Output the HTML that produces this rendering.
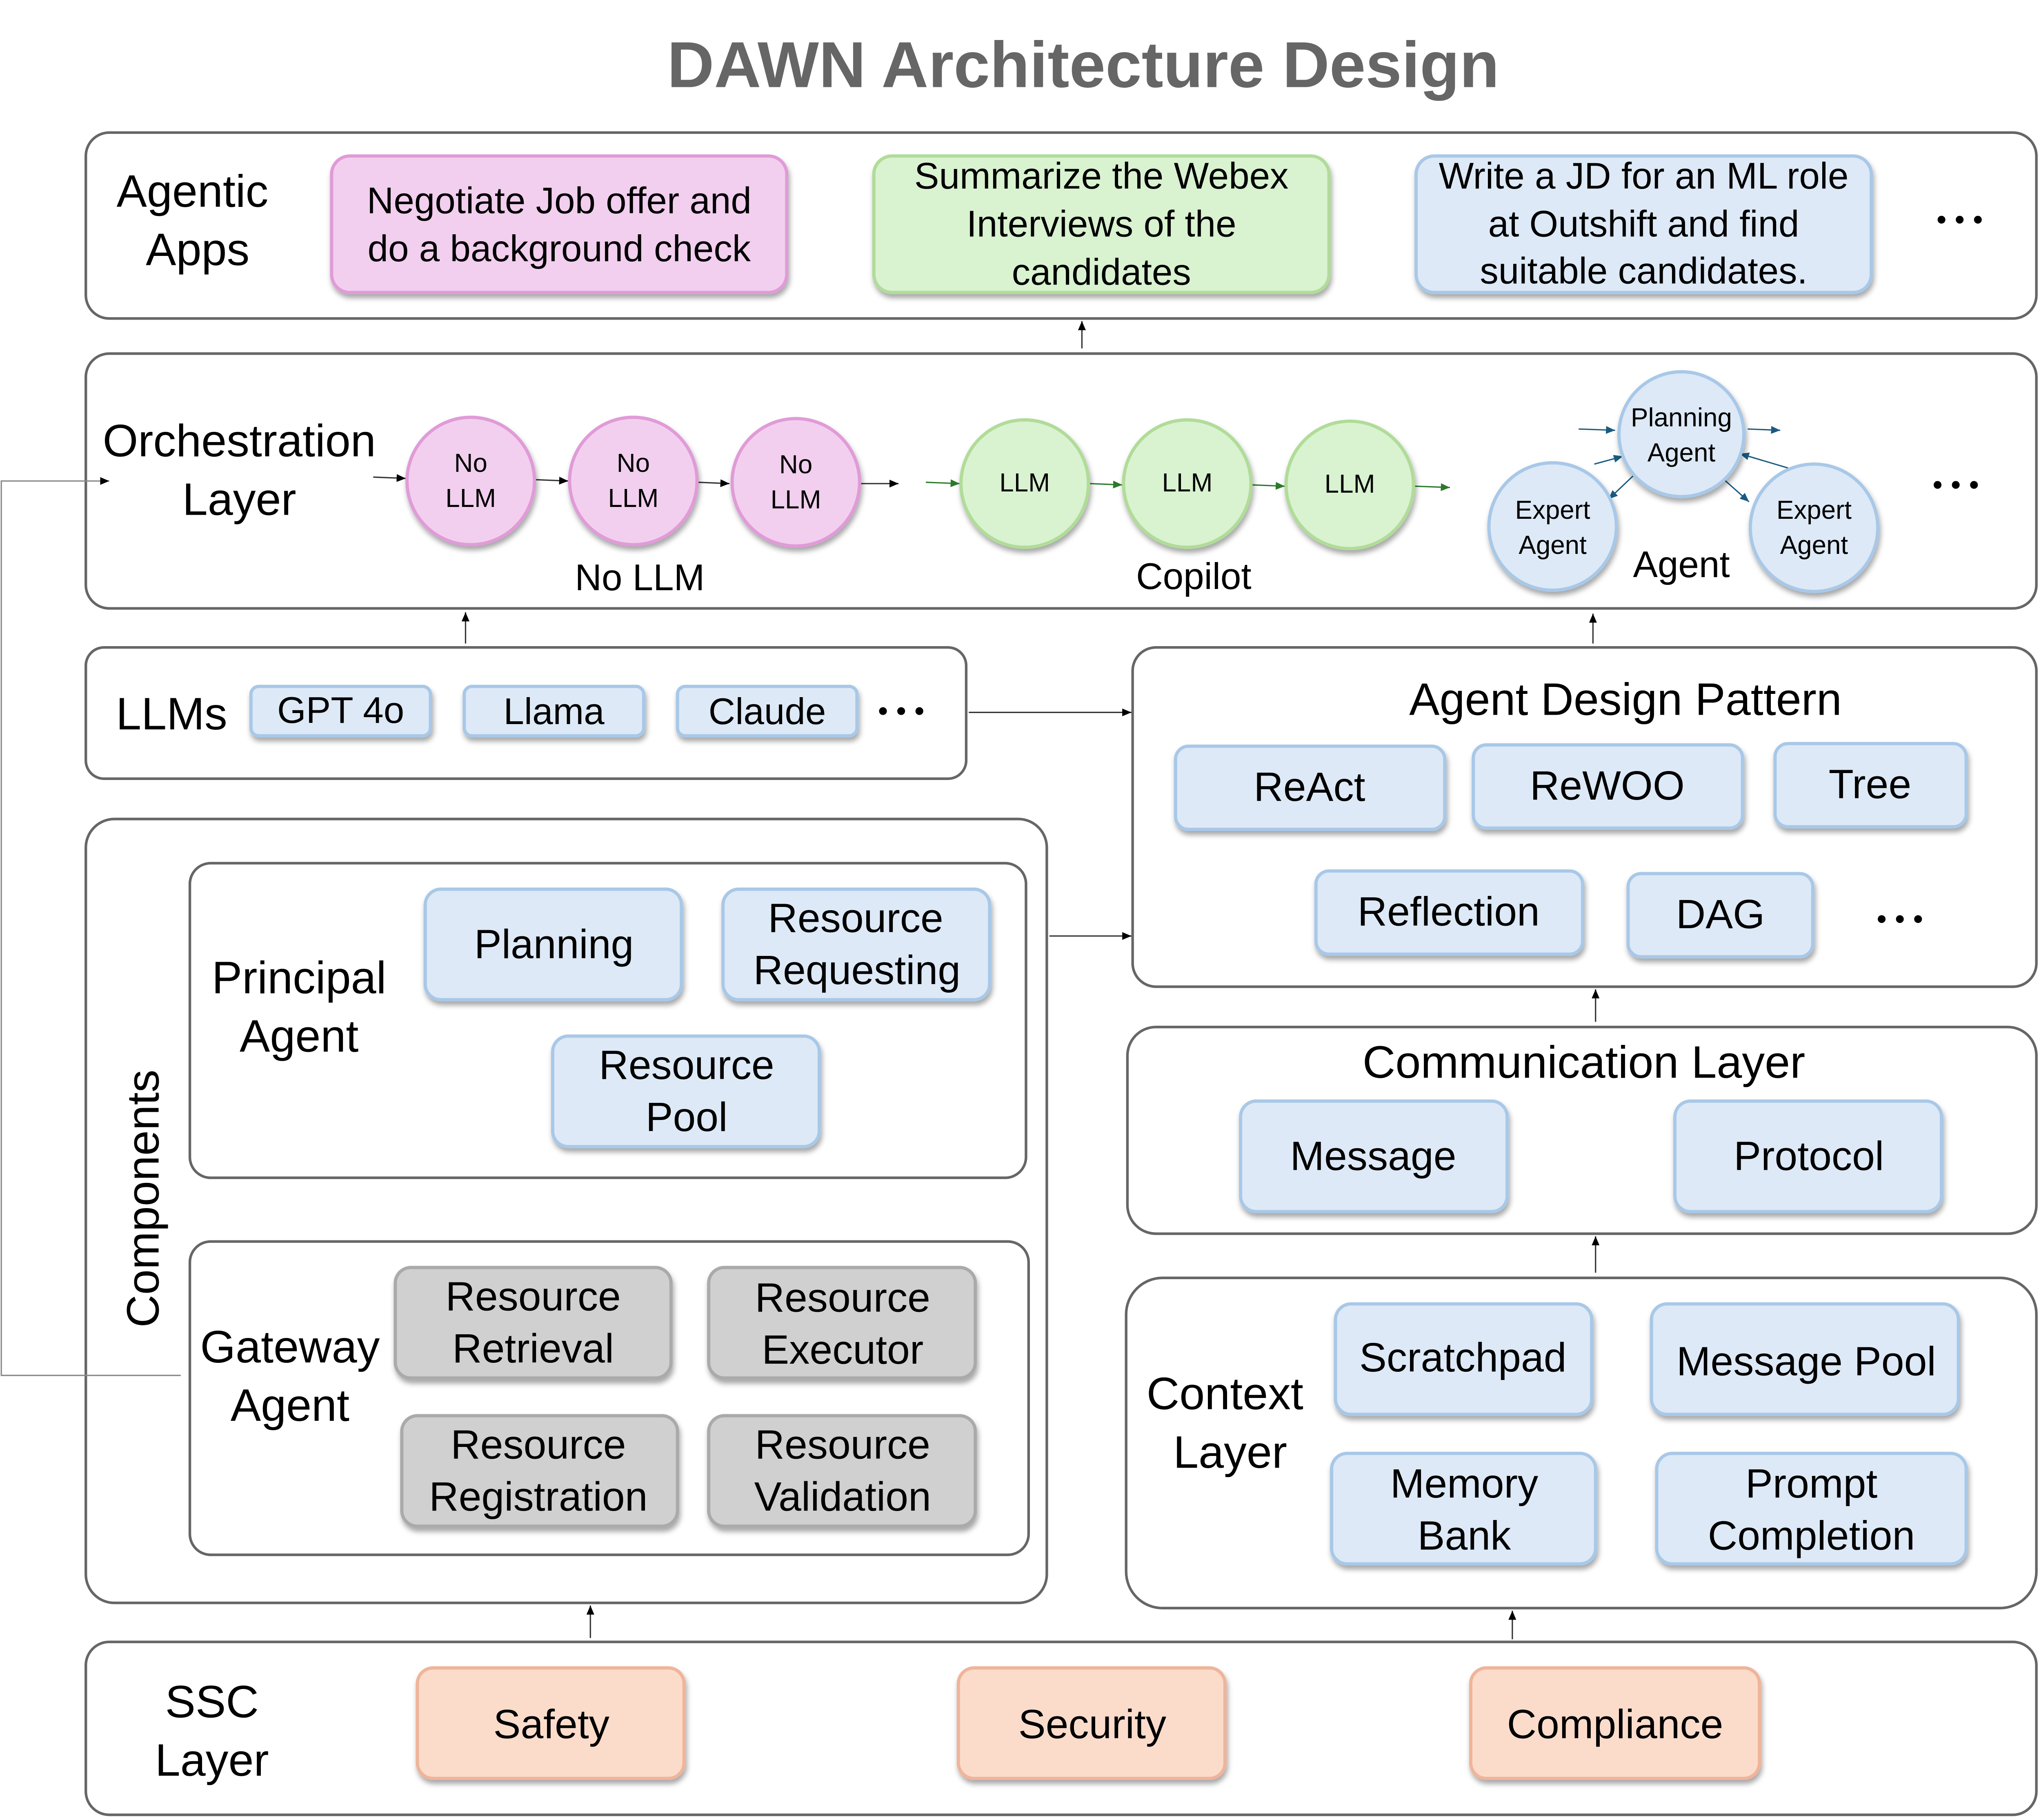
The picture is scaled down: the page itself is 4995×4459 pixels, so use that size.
<!DOCTYPE html>
<html><head><meta charset="utf-8"><style>
html,body{margin:0;padding:0;background:#fff;}
svg{display:block;}
text{font-family:"Liberation Sans",sans-serif;fill:#000;}
</style></head><body>
<svg width="4995" height="4459" viewBox="0 0 1568 1400" preserveAspectRatio="none" xmlns="http://www.w3.org/2000/svg">
<defs>
<filter id="sh" x="-20%" y="-20%" width="140%" height="150%"><feDropShadow dx="1" dy="3" stdDeviation="2" flood-color="#000" flood-opacity="0.35"/></filter>
<marker id="ak" markerWidth="8" markerHeight="8" refX="7" refY="4" orient="auto" markerUnits="userSpaceOnUse"><path d="M0,1 L7,4 L0,7 z" fill="#000"/></marker>
<marker id="ag" markerWidth="8" markerHeight="8" refX="7" refY="4" orient="auto" markerUnits="userSpaceOnUse"><path d="M0,1 L7,4 L0,7 z" fill="#2a7a2a"/></marker>
<marker id="ab" markerWidth="8" markerHeight="8" refX="7" refY="4" orient="auto" markerUnits="userSpaceOnUse"><path d="M0,1 L7,4 L0,7 z" fill="#1a5a80"/></marker>
</defs>
<text x="833" y="67" font-size="50" font-weight="bold" text-anchor="middle" style="fill:#666">DAWN Architecture Design</text>

<g fill="none" stroke="#666" stroke-width="2">
<rect x="66" y="102" width="1500" height="143" rx="18"/>
<rect x="66" y="272" width="1500" height="196" rx="18"/>
<rect x="66" y="498" width="677" height="101" rx="14"/>
<rect x="871" y="498" width="695" height="261" rx="18"/>
<rect x="66" y="630" width="739" height="603" rx="22"/>
<rect x="146" y="664" width="643" height="242" rx="16"/>
<rect x="146" y="955" width="645" height="241" rx="16"/>
<rect x="867" y="790" width="699" height="159" rx="22"/>
<rect x="866" y="983" width="700" height="254" rx="28"/>
<rect x="66" y="1263" width="1500" height="133" rx="18"/>
</g>

<g stroke="#333" stroke-width="1" fill="none" marker-end="url(#ak)">
<line x1="832" y1="268" x2="832" y2="247"/>
<line x1="358" y1="495" x2="358" y2="471"/>
<line x1="1225" y1="495" x2="1225" y2="472"/>
<line x1="745" y1="548" x2="870" y2="548"/>
<line x1="807" y1="720" x2="870" y2="720"/>
<line x1="1227" y1="786" x2="1227" y2="761"/>
<line x1="1227" y1="979" x2="1227" y2="951"/>
<line x1="454" y1="1260" x2="454" y2="1235"/>
<line x1="1163" y1="1261" x2="1163" y2="1239"/>
<polyline points="139,1058 1,1058 1,370 84,370" stroke="#888"/>
<line x1="287" y1="367" x2="312" y2="368"/>
<line x1="412" y1="369" x2="437" y2="370"/>
<line x1="537" y1="371" x2="561" y2="372"/>
<line x1="662" y1="372" x2="691" y2="372"/>
</g>
<g stroke="#2a7a2a" stroke-width="1" marker-end="url(#ag)">
<line x1="712" y1="371" x2="738" y2="372"/>
<line x1="838" y1="372" x2="863" y2="373"/>
<line x1="963" y1="373" x2="988" y2="374"/>
<line x1="1088" y1="374" x2="1115" y2="375"/>
</g>
<g stroke="#1a5a80" stroke-width="1" marker-end="url(#ab)">
<line x1="1214" y1="330" x2="1242" y2="331"/>
<line x1="1344" y1="330" x2="1369" y2="331"/>
<line x1="1226" y1="357" x2="1248" y2="351"/>
<line x1="1257" y1="365" x2="1237" y2="384"/>
<line x1="1375" y1="360" x2="1338" y2="349"/>
<line x1="1318" y1="362" x2="1345" y2="386"/>
</g>

<g filter="url(#sh)" stroke-width="2.5">
<rect x="255" y="120" width="350" height="105" rx="14" fill="#f2cfee" stroke="#e09bd8"/>
<rect x="672" y="120" width="350" height="105" rx="14" fill="#d9f2d0" stroke="#b0dc98"/>
<rect x="1089" y="120" width="350" height="105" rx="14" fill="#dde9f6" stroke="#a8c8e8"/>
<circle cx="362" cy="370" r="49" fill="#f2cfee" stroke="#e09bd8"/>
<circle cx="487" cy="370" r="49" fill="#f2cfee" stroke="#e09bd8"/>
<circle cx="612" cy="371" r="49" fill="#f2cfee" stroke="#e09bd8"/>
<circle cx="788" cy="372" r="49" fill="#d9f2d0" stroke="#b0dc98"/>
<circle cx="913" cy="372" r="49" fill="#d9f2d0" stroke="#b0dc98"/>
<circle cx="1038" cy="373" r="49" fill="#d9f2d0" stroke="#b0dc98"/>
<circle cx="1293" cy="334" r="48" fill="#dde9f6" stroke="#a8c8e8"/>
<circle cx="1194" cy="405" r="49" fill="#dde9f6" stroke="#a8c8e8"/>
<circle cx="1395" cy="406" r="49" fill="#dde9f6" stroke="#a8c8e8"/>
</g>
<g filter="url(#sh)" fill="#dde9f6" stroke="#a8c8e8" stroke-width="2.5">
<rect x="193" y="528" width="138" height="38" rx="6"/>
<rect x="357" y="528" width="138" height="38" rx="6"/>
<rect x="521" y="528" width="138" height="38" rx="6"/>
<rect x="904" y="574" width="207" height="64" rx="10"/>
<rect x="1133" y="573" width="207" height="64" rx="10"/>
<rect x="1365" y="572" width="147" height="64" rx="10"/>
<rect x="1012" y="670" width="205" height="64" rx="10"/>
<rect x="1252" y="672" width="142" height="64" rx="10"/>
<rect x="327" y="684" width="197" height="85" rx="12"/>
<rect x="556" y="684" width="205" height="85" rx="12"/>
<rect x="425" y="797" width="205" height="85" rx="12"/>
<rect x="954" y="847" width="205" height="85" rx="12"/>
<rect x="1288" y="847" width="205" height="85" rx="12"/>
<rect x="1027" y="1003" width="197" height="85" rx="12"/>
<rect x="1270" y="1003" width="236" height="85" rx="12"/>
<rect x="1024" y="1118" width="203" height="85" rx="12"/>
<rect x="1274" y="1118" width="238" height="85" rx="12"/>
</g>
<g filter="url(#sh)" fill="#d0d0d0" stroke="#aaa" stroke-width="2.5">
<rect x="304" y="975" width="212" height="85" rx="12"/>
<rect x="545" y="975" width="205" height="85" rx="12"/>
<rect x="309" y="1089" width="212" height="85" rx="12"/>
<rect x="545" y="1089" width="205" height="85" rx="12"/>
</g>
<g filter="url(#sh)" fill="#fbdccb" stroke="#f0b49a" stroke-width="2.5">
<rect x="321" y="1283" width="205" height="85" rx="12"/>
<rect x="737" y="1283" width="205" height="85" rx="12"/>
<rect x="1131" y="1283" width="222" height="85" rx="12"/>
</g>

<g font-size="35" text-anchor="middle">
<text x="148" y="159">Agentic</text><text x="152" y="204">Apps</text>
<text x="184" y="351">Orchestration</text><text x="184" y="396">Layer</text>
<text x="132" y="561">LLMs</text>
<text x="1250" y="550">Agent Design Pattern</text>
<text x="230" y="764">Principal</text><text x="230" y="809">Agent</text>
<text x="223" y="1048">Gateway</text><text x="223" y="1093">Agent</text>
<text x="1218" y="829">Communication Layer</text>
<text x="942" y="1084">Context</text><text x="946" y="1129">Layer</text>
<text x="163" y="1321">SSC</text><text x="163" y="1366">Layer</text>
<text transform="translate(122,922) rotate(-90)">Components</text>
</g>
<g font-size="28.5" text-anchor="middle">
<text x="430" y="164">Negotiate Job offer and</text><text x="430" y="201">do a background check</text>
<text x="847" y="145">Summarize the Webex</text><text x="847" y="182">Interviews of the</text><text x="847" y="219">candidates</text>
<text x="1264" y="145">Write a JD for an ML role</text><text x="1264" y="182">at Outshift and find</text><text x="1264" y="218">suitable candidates.</text>
<text x="492" y="454">No LLM</text><text x="918" y="453">Copilot</text><text x="1293" y="444">Agent</text>
<text x="262" y="556">GPT 4o</text><text x="426" y="557">Llama</text><text x="590" y="557">Claude</text>
</g>
<g font-size="20" text-anchor="middle">
<text x="362" y="363">No</text><text x="362" y="390">LLM</text>
<text x="487" y="363">No</text><text x="487" y="390">LLM</text>
<text x="612" y="364">No</text><text x="612" y="391">LLM</text>
<text x="788" y="378">LLM</text><text x="913" y="378">LLM</text><text x="1038" y="379">LLM</text>
<text x="1293" y="328">Planning</text><text x="1293" y="355">Agent</text>
<text x="1194" y="399">Expert</text><text x="1194" y="426">Agent</text>
<text x="1395" y="399">Expert</text><text x="1395" y="426">Agent</text>
</g>
<g font-size="31.5" text-anchor="middle">
<text x="1007" y="616">ReAct</text><text x="1236" y="615">ReWOO</text><text x="1438" y="614">Tree</text>
<text x="1114" y="712">Reflection</text><text x="1323" y="714">DAG</text>
<text x="426" y="737">Planning</text>
<text x="658" y="717">Resource</text><text x="659" y="757">Requesting</text>
<text x="528" y="830">Resource</text><text x="528" y="870">Pool</text>
<text x="410" y="1008">Resource</text><text x="410" y="1048">Retrieval</text>
<text x="648" y="1009">Resource</text><text x="648" y="1049">Executor</text>
<text x="414" y="1122">Resource</text><text x="414" y="1162">Registration</text>
<text x="648" y="1122">Resource</text><text x="648" y="1162">Validation</text>
<text x="1056" y="900">Message</text><text x="1391" y="900">Protocol</text>
<text x="1125" y="1055">Scratchpad</text><text x="1389" y="1058">Message Pool</text>
<text x="1126" y="1152">Memory</text><text x="1126" y="1192">Bank</text>
<text x="1393" y="1152">Prompt</text><text x="1393" y="1192">Completion</text>
<text x="424" y="1337">Safety</text><text x="840" y="1337">Security</text><text x="1242" y="1337">Compliance</text>
</g>
<g fill="#000">
<circle cx="1493" cy="169" r="3"/><circle cx="1507" cy="169" r="3"/><circle cx="1521" cy="169" r="3"/>
<circle cx="1490" cy="373" r="3"/><circle cx="1504" cy="373" r="3"/><circle cx="1518" cy="373" r="3"/>
<circle cx="679" cy="547" r="3"/><circle cx="693" cy="547" r="3"/><circle cx="707" cy="547" r="3"/>
<circle cx="1447" cy="707" r="3"/><circle cx="1461" cy="707" r="3"/><circle cx="1475" cy="707" r="3"/>
</g>
</svg>
</body></html>
